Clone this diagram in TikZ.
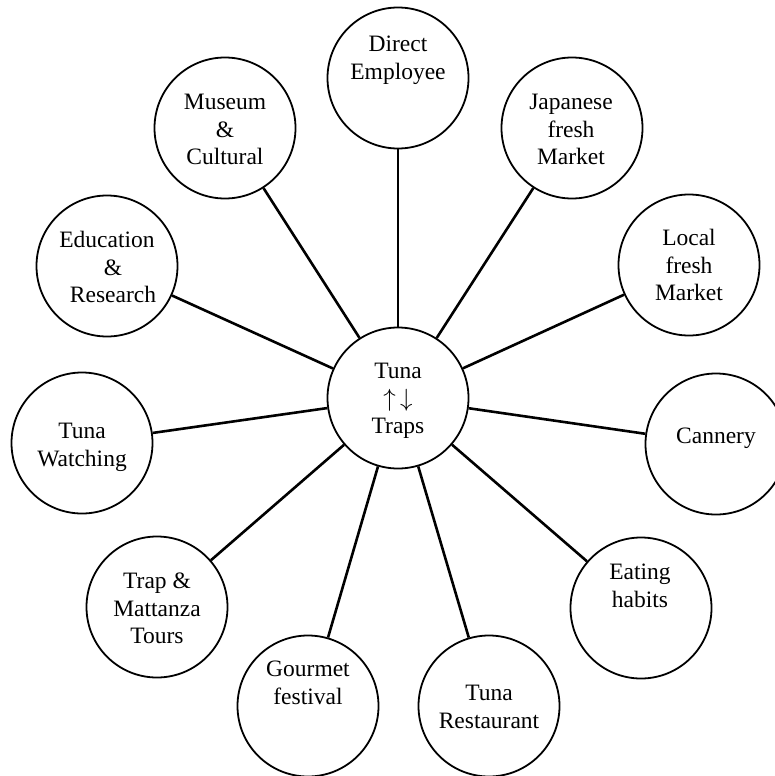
\documentclass[tikz,border=0pt]{standalone}
\usepackage{fontspec}
\setmainfont{Liberation Serif}
\begin{document}
\tikzset{
  bub/.style={circle, draw, line width=1.8pt, minimum size=141pt, inner sep=0pt},
  lbl/.style={anchor=north, align=center, inner sep=0pt, font=\fontsize{23.5}{27.5}\selectfont},
  link/.style={line width=2.6pt}
}
\begin{tikzpicture}[x=1pt,y=-1pt]
\useasboundingbox (0,0) rectangle (775,776);
% circles
\node[bub] (hub) at (398,398) {};
\node[bub] (direct) at (398,78) {};
\node[bub] (museum) at (225,128) {};
\node[bub] (japan) at (572,128) {};
\node[bub] (local) at (689,265) {};
\node[bub] (cannery) at (716,444) {};
\node[bub] (eating) at (641,608) {};
\node[bub] (rest) at (489,706) {};
\node[bub] (gourmet) at (308,706) {};
\node[bub] (trap) at (157,607) {};
\node[bub] (watch) at (82,443) {};
\node[bub] (edu) at (107,266) {};
% texts
\node[lbl] (thub) at (398,363) {Tuna\\$\uparrow\,\downarrow$\\Traps};
\node[lbl] (tdirect) at (398,36) {Direct\\Employee};
\node[lbl] (tmuseum) at (225,94) {Museum\\\&\\Cultural};
\node[lbl] (tjapan) at (571,94) {Japanese\\fresh\\Market};
\node[lbl] (tlocal) at (689,229) {Local\\fresh\\Market};
\node[lbl] (tcannery) at (716,428) {Cannery};
\node[lbl] (teating) at (640,564) {Eating\\habits};
\node[lbl] (trest) at (489,685) {Tuna\\Restaurant};
\node[lbl] (tgourmet) at (308,661) {Gourmet\\festival};
\node[lbl] (ttrap) at (157,573) {Trap \&\\Mattanza\\Tours};
\node[lbl] (twatch) at (82,423) {Tuna\\Watching};
\node[lbl] (tedu) at (110,231) {\hspace*{-6pt}Education\\\hspace*{6pt}\&\\\hspace*{6pt}Research};
% connectors
\foreach \n in {direct,museum,japan,local,cannery,eating,rest,gourmet,trap,watch,edu}
  \draw[link] (hub) -- (\n);
\end{tikzpicture}
\end{document}
